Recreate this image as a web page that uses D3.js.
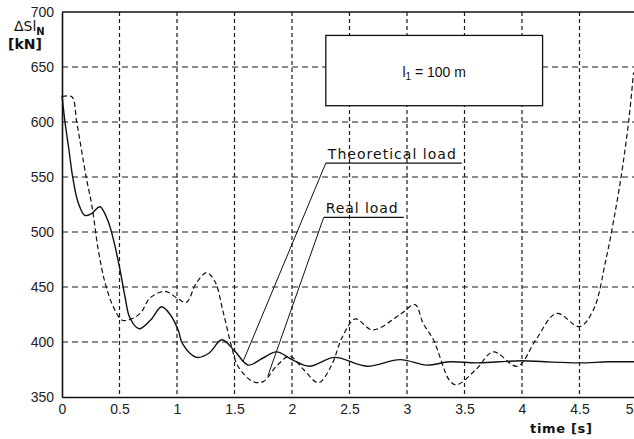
<!DOCTYPE html>
<html>
<head>
<meta charset="utf-8">
<script src="https://cdn.jsdelivr.net/npm/d3@7"></script>
<style>
  body { margin: 0; background: #fff; }
  svg { display: block; font-family: "Liberation Sans", Arial, sans-serif; }
  .grid { stroke: #1a1a1a; stroke-width: 1.2; stroke-dasharray: 6 4; fill: none; }
  .lettering { font-family: "DejaVu Sans", sans-serif; fill: #111; }
</style>
</head>
<body>
<svg></svg>
<script>
// time [s] and load [kN]
var theoTime = [0, 0.026, 0.06, 0.093, 0.14, 0.2, 0.26, 0.33, 0.4, 0.45, 0.5, 0.55, 0.59, 0.67, 0.77, 0.866, 0.94, 1.01, 1.05, 1.17, 1.28, 1.39, 1.5, 1.62, 1.74, 1.865, 2.0, 2.15, 2.37, 2.65, 2.94, 3.17, 3.37, 3.6, 3.8, 4.0, 4.2, 4.5, 4.75, 5.0];
var theoLoad = [624, 600, 575, 550, 527, 515, 517, 523, 510, 492, 468, 440, 422, 412, 420, 432, 425, 411, 398, 386, 390, 402, 392, 379, 385, 391, 384, 378, 386, 378, 384, 379, 382, 381, 382, 383, 382, 381, 382, 382];

var realTime = [0, 0.085, 0.128, 0.21, 0.26, 0.315, 0.374, 0.446, 0.52, 0.576, 0.68, 0.765, 0.895, 1.0, 1.08, 1.17, 1.257, 1.33, 1.4, 1.474, 1.53, 1.66, 1.75, 1.865, 1.98, 2.1, 2.23, 2.34, 2.44, 2.55, 2.7, 2.94, 3.07, 3.14, 3.23, 3.37, 3.43, 3.6, 3.75, 3.96, 4.12, 4.3, 4.5, 4.62, 4.73, 4.82, 4.88, 4.93, 4.97];
var realLoad = [623, 623, 600, 550, 524, 484, 454, 432, 420, 420, 426, 440, 446, 440, 436, 454, 463, 455, 428, 396, 378, 364, 364, 378, 387, 375, 363, 378, 405, 421, 411, 425, 434, 417, 402, 365, 361, 375, 391, 378, 402, 426, 414, 429, 475, 524, 563, 603, 645];

var xTicks = [0, 0.5, 1, 1.5, 2, 2.5, 3, 3.5, 4, 4.5, 5];
var yTicks = [350, 400, 450, 500, 550, 600, 650, 700];

var width = 634, height = 439;
var svg = d3.select("svg").attr("width", width).attr("height", height);

var x = d3.scaleLinear().domain([0, 5]).range([62, 637]);
var y = d3.scaleLinear().domain([350, 700]).range([397, 12]);

// grid
svg.append("g").selectAll("line")
    .data(yTicks.slice(1, -1))
    .join("line")
    .attr("class", "grid")
    .attr("x1", x(0)).attr("x2", x(5))
    .attr("y1", d => y(d)).attr("y2", d => y(d));

svg.append("g").selectAll("line")
    .data(xTicks.slice(1, -1))
    .join("line")
    .attr("class", "grid")
    .style("stroke-dasharray", "4 3")
    .attr("x1", d => x(d)).attr("x2", d => x(d))
    .attr("y1", y(700)).attr("y2", y(350));

// frame
svg.append("line")
    .attr("x1", x(0)).attr("x2", x(5)).attr("y1", y(700)).attr("y2", y(700))
    .attr("stroke", "#111").attr("stroke-width", 1.4);

// axes
var xAxis = svg.append("g")
    .attr("transform", "translate(0," + y(350) + ")")
    .call(d3.axisBottom(x).tickValues(xTicks).tickSize(0).tickPadding(7).tickFormat(d3.format("")));
xAxis.select(".domain").attr("stroke", "#111").attr("stroke-width", 1.6);
// last label sits at the page edge, nudge it in
xAxis.selectAll(".tick text").filter(d => d === 5).attr("text-anchor", "end").attr("dx", -4);

var yAxis = svg.append("g")
    .attr("transform", "translate(" + x(0) + ",0)")
    .call(d3.axisLeft(y).tickValues(yTicks).tickSize(0).tickPadding(8));
yAxis.select(".domain").attr("stroke", "#111").attr("stroke-width", 1.6);

svg.selectAll(".tick text")
    .style("font-family", "'Liberation Sans', Arial, sans-serif")
    .style("font-size", "14px")
    .attr("fill", "#222");

// legend box
var box = svg.append("g");
box.append("rect")
    .attr("x", x(2.294)).attr("y", y(678.7))
    .attr("width", x(4.179) - x(2.294)).attr("height", y(614.8) - y(678.7))
    .attr("fill", "#fff").attr("stroke", "#111").attr("stroke-width", 1.3);
var lt = box.append("text")
    .attr("x", (x(2.294) + x(4.179)) / 2).attr("y", 77)
    .attr("text-anchor", "middle")
    .style("font-size", "14px").attr("fill", "#111");
lt.append("tspan").text("l");
lt.append("tspan").attr("dy", 3).style("font-size", "10px").text("1");
lt.append("tspan").attr("dy", -3).text(" = 100 m");

// curves
var line = d3.line()
    .x(d => x(d[0]))
    .y(d => y(d[1]))
    .curve(d3.curveCatmullRom.alpha(0.5));

svg.append("path")
    .datum(d3.zip(realTime, realLoad))
    .attr("d", line)
    .attr("fill", "none")
    .attr("stroke", "#111")
    .attr("stroke-width", 1.2)
    .attr("stroke-dasharray", "5 3");

svg.append("path")
    .datum(d3.zip(theoTime, theoLoad))
    .attr("d", line)
    .attr("fill", "none")
    .attr("stroke", "#111")
    .attr("stroke-width", 1.4);

// annotations with leader lines
var notes = [
  { label: "Theoretical load", t: 2.294, v: 562.6, len: 136, tt: 1.573, tv: 381.9 },
  { label: "Real load", t: 2.276, v: 513.3, len: 80, tt: 1.79, tv: 369.2 }
];
var ng = svg.append("g").selectAll("g").data(notes).join("g");
ng.append("line")
    .attr("x1", d => x(d.t)).attr("y1", d => y(d.v))
    .attr("x2", d => x(d.t) + d.len).attr("y2", d => y(d.v))
    .attr("stroke", "#111").attr("stroke-width", 1.4);
ng.append("line")
    .attr("x1", d => x(d.t)).attr("y1", d => y(d.v))
    .attr("x2", d => x(d.tt)).attr("y2", d => y(d.tv))
    .attr("stroke", "#111").attr("stroke-width", 1);
ng.append("text")
    .attr("class", "lettering")
    .attr("x", d => x(d.t) + 2).attr("y", d => y(d.v) - 4)
    .attr("textLength", d => d.len - 8)
    .attr("lengthAdjust", "spacing")
    .style("font-size", "14px")
    .text(d => d.label);

// axis titles
var yt = svg.append("g").attr("class", "lettering").style("font-size", "14px");
var t1 = yt.append("text").attr("x", 14).attr("y", 31);
t1.append("tspan").text("ΔSl");
t1.append("tspan").attr("dy", 4).style("font-size", "10px").style("font-weight", "bold").text("N");
yt.append("text").attr("x", 8).attr("y", 49)
    .attr("textLength", 34).attr("lengthAdjust", "spacing")
    .style("font-weight", "bold")
    .text("[kN]");

svg.append("text")
    .attr("class", "lettering")
    .attr("x", 530).attr("y", 433)
    .attr("textLength", 62).attr("lengthAdjust", "spacing")
    .style("font-size", "13px").style("font-weight", "bold")
    .text("time [s]");
</script>
</body>
</html>
